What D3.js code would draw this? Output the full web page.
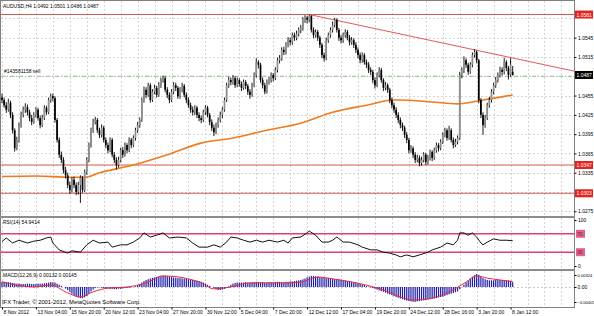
<!DOCTYPE html>
<html><head><meta charset="utf-8">
<script src="https://cdn.jsdelivr.net/npm/d3@7"></script>
<style>body{margin:0;background:#fff}svg{display:block;font-family:"Liberation Sans",Arial,sans-serif}</style>
</head><body><svg id="c" width="594" height="316"></svg>
<script>
// ---------- DATA ----------
const symbolTitle = "AUDUSD,H4  1.0492 1.0501 1.0486 1.0487";
const orderText = "#143581158 sell";
const rsiTitle = "RSI(14) 54.9414";
const macdTitle = "MACD(12,26,9) 0.00132 0.00145";
const copyright = "IFX Trader, \u00a9 2001-2012, MetaQuotes Software Corp.";

// H4 candles [open, high, low, close]
const ohlc = [
[1.0452,1.0458,1.0443,1.0448],[1.0448,1.0452,1.0436,1.0440],[1.0440,1.0445,1.0428,1.0433],[1.0433,1.0450,1.0430,1.0444],[1.0444,1.0447,1.0420,1.0425],
[1.0425,1.0429,1.0396,1.0401],[1.0401,1.0404,1.0368,1.0373],[1.0373,1.0391,1.0370,1.0386],[1.0386,1.0413,1.0382,1.0409],[1.0409,1.0430,1.0405,1.0425],
[1.0425,1.0438,1.0421,1.0433],[1.0433,1.0443,1.0428,1.0437],[1.0437,1.0441,1.0424,1.0429],[1.0429,1.0433,1.0415,1.0420],[1.0420,1.0425,1.0409,1.0414],
[1.0414,1.0429,1.0411,1.0425],[1.0425,1.0437,1.0421,1.0433],[1.0433,1.0436,1.0416,1.0420],[1.0420,1.0424,1.0404,1.0409],[1.0409,1.0425,1.0406,1.0420],
[1.0420,1.0440,1.0417,1.0436],[1.0436,1.0439,1.0425,1.0429],[1.0429,1.0452,1.0426,1.0448],[1.0448,1.0458,1.0444,1.0454],[1.0454,1.0458,1.0446,1.0451],
[1.0451,1.0454,1.0413,1.0417],[1.0417,1.0420,1.0382,1.0386],[1.0386,1.0390,1.0358,1.0363],[1.0363,1.0368,1.0350,1.0355],[1.0355,1.0359,1.0334,1.0339],
[1.0339,1.0344,1.0326,1.0331],[1.0331,1.0335,1.0311,1.0316],[1.0316,1.0321,1.0302,1.0308],[1.0308,1.0328,1.0304,1.0324],[1.0324,1.0329,1.0311,1.0316],
[1.0316,1.0320,1.0300,1.0305],[1.0305,1.0321,1.0301,1.0316],[1.0316,1.0331,1.0288,1.0327],[1.0327,1.0330,1.0304,1.0308],[1.0308,1.0340,1.0305,1.0336],
[1.0336,1.0359,1.0332,1.0355],[1.0355,1.0382,1.0351,1.0378],[1.0378,1.0405,1.0374,1.0401],[1.0401,1.0419,1.0397,1.0414],[1.0414,1.0422,1.0410,1.0417],
[1.0417,1.0420,1.0397,1.0401],[1.0401,1.0405,1.0389,1.0394],[1.0394,1.0410,1.0390,1.0405],[1.0405,1.0408,1.0382,1.0386],[1.0386,1.0390,1.0373,1.0378],
[1.0378,1.0382,1.0365,1.0370],[1.0370,1.0390,1.0367,1.0386],[1.0386,1.0389,1.0359,1.0363],[1.0363,1.0367,1.0350,1.0355],[1.0355,1.0359,1.0340,1.0347],
[1.0347,1.0360,1.0343,1.0355],[1.0355,1.0374,1.0351,1.0370],[1.0370,1.0375,1.0358,1.0363],[1.0363,1.0382,1.0360,1.0378],[1.0378,1.0381,1.0365,1.0370],
[1.0370,1.0390,1.0367,1.0386],[1.0386,1.0389,1.0373,1.0378],[1.0378,1.0393,1.0375,1.0389],[1.0389,1.0405,1.0385,1.0401],[1.0401,1.0414,1.0397,1.0409],
[1.0409,1.0421,1.0405,1.0417],[1.0417,1.0452,1.0414,1.0448],[1.0448,1.0469,1.0444,1.0464],[1.0464,1.0468,1.0451,1.0456],[1.0456,1.0475,1.0453,1.0471],
[1.0471,1.0474,1.0444,1.0448],[1.0448,1.0465,1.0445,1.0461],[1.0461,1.0472,1.0457,1.0467],[1.0467,1.0470,1.0452,1.0456],[1.0456,1.0476,1.0453,1.0471],
[1.0471,1.0483,1.0467,1.0479],[1.0479,1.0486,1.0475,1.0482],[1.0482,1.0485,1.0460,1.0464],[1.0464,1.0468,1.0451,1.0456],[1.0456,1.0460,1.0443,1.0448],
[1.0448,1.0465,1.0445,1.0461],[1.0461,1.0476,1.0457,1.0471],[1.0471,1.0475,1.0462,1.0467],[1.0467,1.0470,1.0450,1.0454],[1.0454,1.0468,1.0450,1.0464],
[1.0464,1.0475,1.0460,1.0470],[1.0470,1.0473,1.0452,1.0456],[1.0456,1.0460,1.0443,1.0448],[1.0448,1.0452,1.0436,1.0440],[1.0440,1.0444,1.0428,1.0433],
[1.0433,1.0438,1.0424,1.0429],[1.0429,1.0440,1.0425,1.0436],[1.0436,1.0439,1.0420,1.0425],[1.0425,1.0429,1.0415,1.0420],[1.0420,1.0424,1.0412,1.0417],
[1.0417,1.0433,1.0414,1.0429],[1.0429,1.0440,1.0425,1.0436],[1.0436,1.0439,1.0421,1.0425],[1.0425,1.0428,1.0409,1.0414],[1.0414,1.0418,1.0400,1.0405],
[1.0405,1.0410,1.0392,1.0398],[1.0398,1.0413,1.0395,1.0409],[1.0409,1.0421,1.0405,1.0417],[1.0417,1.0430,1.0413,1.0425],[1.0425,1.0437,1.0420,1.0433],
[1.0433,1.0452,1.0430,1.0448],[1.0448,1.0475,1.0445,1.0471],[1.0471,1.0484,1.0467,1.0479],[1.0479,1.0483,1.0471,1.0476],[1.0476,1.0487,1.0472,1.0482],
[1.0482,1.0485,1.0467,1.0471],[1.0471,1.0483,1.0468,1.0479],[1.0479,1.0482,1.0469,1.0473],[1.0473,1.0477,1.0462,1.0467],[1.0467,1.0480,1.0464,1.0476],
[1.0476,1.0479,1.0465,1.0470],[1.0470,1.0473,1.0456,1.0461],[1.0461,1.0465,1.0450,1.0456],[1.0456,1.0475,1.0453,1.0471],[1.0471,1.0491,1.0468,1.0487],
[1.0487,1.0513,1.0483,1.0507],[1.0507,1.0510,1.0497,1.0503],[1.0503,1.0506,1.0475,1.0479],[1.0479,1.0483,1.0466,1.0471],[1.0471,1.0475,1.0457,1.0461],
[1.0461,1.0480,1.0458,1.0476],[1.0476,1.0484,1.0472,1.0479],[1.0479,1.0491,1.0475,1.0487],[1.0487,1.0490,1.0477,1.0482],[1.0482,1.0499,1.0479,1.0495],
[1.0495,1.0514,1.0491,1.0510],[1.0510,1.0518,1.0505,1.0513],[1.0513,1.0530,1.0509,1.0526],[1.0526,1.0531,1.0518,1.0523],[1.0523,1.0538,1.0519,1.0534],
[1.0534,1.0546,1.0530,1.0541],[1.0541,1.0545,1.0533,1.0538],[1.0538,1.0553,1.0534,1.0549],[1.0549,1.0553,1.0540,1.0545],[1.0545,1.0556,1.0541,1.0551],
[1.0551,1.0561,1.0547,1.0557],[1.0557,1.0565,1.0552,1.0560],[1.0560,1.0577,1.0556,1.0573],[1.0573,1.0580,1.0568,1.0576],[1.0576,1.0579,1.0567,1.0573],
[1.0573,1.0581,1.0569,1.0579],[1.0579,1.0580,1.0553,1.0557],[1.0557,1.0561,1.0544,1.0549],[1.0549,1.0558,1.0545,1.0554],[1.0554,1.0557,1.0540,1.0545],
[1.0545,1.0548,1.0529,1.0534],[1.0534,1.0537,1.0513,1.0518],[1.0518,1.0522,1.0508,1.0513],[1.0513,1.0545,1.0510,1.0541],[1.0541,1.0553,1.0537,1.0549],
[1.0549,1.0561,1.0545,1.0557],[1.0557,1.0570,1.0553,1.0565],[1.0565,1.0576,1.0561,1.0573],[1.0573,1.0575,1.0553,1.0557],[1.0557,1.0560,1.0540,1.0545],
[1.0545,1.0549,1.0536,1.0541],[1.0541,1.0553,1.0537,1.0549],[1.0549,1.0558,1.0545,1.0554],[1.0554,1.0557,1.0541,1.0545],[1.0545,1.0549,1.0533,1.0538],
[1.0538,1.0546,1.0534,1.0541],[1.0541,1.0544,1.0529,1.0534],[1.0534,1.0538,1.0521,1.0526],[1.0526,1.0530,1.0513,1.0518],[1.0518,1.0522,1.0505,1.0510],
[1.0510,1.0522,1.0506,1.0518],[1.0518,1.0521,1.0503,1.0507],[1.0507,1.0511,1.0498,1.0503],[1.0503,1.0507,1.0490,1.0495],[1.0495,1.0499,1.0487,1.0492],
[1.0492,1.0495,1.0474,1.0479],[1.0479,1.0483,1.0466,1.0471],[1.0471,1.0491,1.0468,1.0487],[1.0487,1.0499,1.0483,1.0495],[1.0495,1.0498,1.0475,1.0479],
[1.0479,1.0482,1.0462,1.0467],[1.0467,1.0476,1.0463,1.0471],[1.0471,1.0474,1.0459,1.0464],[1.0464,1.0467,1.0443,1.0448],[1.0448,1.0452,1.0435,1.0440],
[1.0440,1.0444,1.0428,1.0433],[1.0433,1.0437,1.0420,1.0425],[1.0425,1.0429,1.0412,1.0417],[1.0417,1.0421,1.0404,1.0409],[1.0409,1.0413,1.0400,1.0405],
[1.0405,1.0408,1.0389,1.0394],[1.0394,1.0398,1.0381,1.0386],[1.0386,1.0389,1.0365,1.0370],[1.0370,1.0378,1.0366,1.0373],[1.0373,1.0376,1.0358,1.0363],
[1.0363,1.0367,1.0350,1.0355],[1.0355,1.0363,1.0351,1.0358],[1.0358,1.0362,1.0345,1.0350],[1.0350,1.0360,1.0346,1.0355],[1.0355,1.0367,1.0351,1.0363],
[1.0363,1.0366,1.0347,1.0352],[1.0352,1.0363,1.0348,1.0358],[1.0358,1.0371,1.0354,1.0367],[1.0367,1.0370,1.0353,1.0358],[1.0358,1.0374,1.0355,1.0370],
[1.0370,1.0382,1.0366,1.0378],[1.0378,1.0381,1.0368,1.0373],[1.0373,1.0387,1.0370,1.0383],[1.0383,1.0398,1.0380,1.0394],[1.0394,1.0405,1.0390,1.0401],
[1.0401,1.0404,1.0385,1.0389],[1.0389,1.0408,1.0386,1.0401],[1.0401,1.0404,1.0382,1.0386],[1.0386,1.0390,1.0373,1.0378],[1.0378,1.0388,1.0375,1.0383],
[1.0383,1.0393,1.0379,1.0389],[1.0389,1.0492,1.0386,1.0487],[1.0487,1.0499,1.0482,1.0495],[1.0495,1.0516,1.0490,1.0510],[1.0510,1.0513,1.0498,1.0503],
[1.0503,1.0506,1.0487,1.0492],[1.0492,1.0507,1.0489,1.0503],[1.0503,1.0522,1.0499,1.0518],[1.0518,1.0527,1.0514,1.0523],[1.0523,1.0525,1.0505,1.0510],
[1.0510,1.0512,1.0443,1.0448],[1.0448,1.0451,1.0420,1.0425],[1.0425,1.0429,1.0394,1.0409],[1.0409,1.0425,1.0405,1.0420],[1.0420,1.0444,1.0417,1.0440],
[1.0440,1.0453,1.0436,1.0448],[1.0448,1.0465,1.0444,1.0461],[1.0461,1.0475,1.0457,1.0471],[1.0471,1.0484,1.0467,1.0479],[1.0479,1.0491,1.0475,1.0487],
[1.0487,1.0500,1.0483,1.0495],[1.0495,1.0499,1.0486,1.0492],[1.0492,1.0514,1.0488,1.0507],[1.0507,1.0510,1.0493,1.0498],[1.0498,1.0501,1.0480,1.0487],
[1.0487,1.0513,1.0484,1.0503],[1.0492,1.0501,1.0486,1.0487]
];

// moving average, [bar index, value]
const maPoints = [[0,1.0329],[16,1.0330],[32,1.0328],[39,1.0328],[46,1.0335],[62,1.0347],[78,1.0363],[94,1.0381],[109,1.0389],[125,1.0401],[141,1.0412],[156,1.0429],[172,1.0440],[185,1.0448],[188,1.0448],[203,1.0445],[215,1.0442],[227,1.0448],[241,1.0456]];

// RSI(14), [bar index, value]
const rsiPoints = [[0,53],[2,61],[5,50],[8,56],[12,50],[15,54],[18,56],[21,61],[23,63],[24,50],[27,35],[31,28],[33,33],[37,30],[40,46],[43,56],[46,50],[50,52],[52,41],[56,46],[59,46],[62,52],[65,61],[67,72],[70,63],[73,67],[76,72],[79,61],[83,63],[87,61],[90,50],[93,41],[97,41],[100,46],[103,41],[106,52],[108,63],[111,61],[114,56],[117,52],[120,56],[123,52],[126,56],[130,52],[133,56],[135,50],[137,61],[141,63],[144,72],[145,76],[148,67],[151,52],[154,52],[156,56],[158,63],[161,52],[164,52],[168,46],[170,41],[174,35],[177,35],[180,30],[183,28],[186,24],[188,20],[191,24],[194,20],[197,24],[201,30],[203,35],[207,41],[210,50],[213,46],[215,56],[216,72],[218,72],[220,67],[222,72],[224,63],[226,50],[227,46],[229,52],[232,59],[235,56],[238,56],[241,55]];

// MACD(12,26,9) main values per bar
const macdMain = [
0.0014,0.0014,0.0013,0.0013,0.0012,0.0011,0.0010,0.0009,0.0009,0.0008,0.0008,0.0008,0.0009,0.0009,0.0008,0.0008,0.0008,0.0009,0.0009,0.0009,0.0010,0.0011,0.0012,0.0013,
0.0013,0.0012,0.0009,0.0006,0.0003,0.0000,
-0.0004,-0.0008,-0.0013,-0.0018,-0.0022,-0.0026,-0.0028,-0.0030,-0.0030,-0.0028,-0.0024,-0.0018,-0.0012,
-0.0007,-0.0003,-0.0001,
-0.0001,-0.0002,-0.0003,-0.0004,-0.0004,-0.0005,-0.0005,-0.0006,-0.0006,-0.0005,-0.0005,-0.0004,-0.0003,-0.0003,-0.0002,-0.0001,0.0000,
0.0002,0.0005,0.0008,0.0012,0.0016,
0.0019,0.0021,0.0023,0.0025,0.0026,0.0027,0.0028,0.0029,0.0030,0.0030,0.0029,0.0028,
0.0027,0.0026,0.0025,0.0024,0.0024,0.0023,0.0022,0.0022,0.0021,0.0020,0.0019,0.0018,0.0017,0.0016,
0.0014,0.0012,0.0009,0.0006,0.0003,0.0000,
-0.0003,-0.0006,-0.0008,-0.0008,-0.0007,-0.0005,-0.0002,0.0002,
0.0006,0.0009,0.0011,0.0012,0.0012,0.0012,0.0012,0.0013,0.0012,0.0012,0.0013,0.0013,0.0014,0.0014,0.0013,0.0013,0.0012,0.0012,0.0013,0.0013,0.0013,0.0014,0.0014,0.0014,0.0013,0.0013,0.0014,0.0014,0.0015,0.0015,0.0016,0.0017,0.0018,0.0019,
0.0021,0.0023,0.0026,0.0028,0.0030,0.0030,0.0029,0.0028,0.0027,
0.0026,0.0025,0.0024,0.0024,0.0023,0.0022,0.0021,0.0021,0.0020,0.0019,0.0018,0.0017,0.0016,0.0015,0.0014,0.0012,0.0011,0.0010,0.0008,0.0007,0.0005,0.0003,
0.0001,-0.0001,-0.0003,-0.0005,-0.0007,-0.0009,-0.0011,-0.0013,-0.0015,-0.0018,-0.0020,-0.0022,-0.0025,-0.0027,-0.0029,
-0.0031,-0.0033,-0.0035,-0.0037,-0.0038,-0.0039,-0.0040,-0.0040,-0.0039,-0.0038,
-0.0037,-0.0036,-0.0035,-0.0034,-0.0033,-0.0032,-0.0031,-0.0030,-0.0028,-0.0027,-0.0026,-0.0024,-0.0022,-0.0020,-0.0018,-0.0016,-0.0014,-0.0012,
-0.0006,0.0000,0.0006,0.0012,0.0018,0.0023,0.0028,0.0032,0.0035,0.0033,
0.0028,0.0024,0.0021,0.0019,0.0018,0.0018,0.0018,0.0019,0.0019,0.0019,0.0019,0.0019,0.0018,0.0018,0.0017,0.0013
];

// MACD signal, [bar index, value]
const signalPoints = [[0,0.0014],[15,0.0000],[23,0.0005],[31,-0.0016],[37,-0.0027],[43,-0.0013],[50,-0.0003],[59,0.0000],[68,0.0011],[76,0.0030],[93,0.0014],[100,-0.0005],[108,0.0000],[117,0.0011],[133,0.0011],[141,0.0013],[149,0.0027],[156,0.0022],[172,0.0005],[180,-0.0008],[188,-0.0027],[194,-0.0035],[203,-0.0030],[211,-0.0013],[219,0.0013],[224,0.0030],[229,0.0024],[235,0.0019],[241,0.00145]];

const priceTicks = [1.0275,1.0305,1.0335,1.0365,1.0395,1.0425,1.0455,1.0485,1.0515,1.0545,1.0575];
const levels = [1.0581,1.0347,1.0303];
const trendLine = [[145,1.0581],[270,1.0493]];
const orderPrice = 1.0485;
const lastPrice = 1.0487;
const rsiLevels = [70,30];
const rsiTicks = [100,0];
const macdTicks = [0.00324,0.00,-0.00405];
const dateLabels = ["8 Nov 2012","13 Nov 04:00","15 Nov 20:00","20 Nov 12:00","23 Nov 04:00","27 Nov 20:00","30 Nov 12:00","5 Dec 04:00","7 Dec 20:00","12 Dec 12:00","17 Dec 04:00","19 Dec 20:00","24 Dec 12:00","28 Dec 16:00","3 Jan 20:00","8 Jan 12:00"];
const dateBars = [0,16,32,48,64,80,96,112,128,144,160,176,192,208,224,240];

// ---------- DRAW ----------
const svg = d3.select("#c");
const AFS = 5;
const axisX = 574;
const main = {top:1, bottom:216}, rsiP = {top:218, bottom:269}, macdP = {top:271, bottom:307};

const x = d3.scaleLinear().domain([0,241]).range([2, 2+241*2.119]);
const yP = d3.scaleLinear().domain([1.0275,1.0575]).range([211.3,18.4]);
const yR = d3.scaleLinear().domain([0,100]).range([266,220]);
const yM = d3.scaleLinear().domain([-0.00405,0.00324]).range([302,275]);

svg.append("rect").attr("width",594).attr("height",316).attr("fill","#fff");
const defs = svg.append("defs");
defs.append("clipPath").attr("id","cm").append("rect").attr("x",1).attr("y",main.top).attr("width",axisX-1).attr("height",main.bottom-main.top);

// vertical grid all panels
const gridBars = d3.range(0, 8*34, 8).filter(b => x(b) < axisX-1);
[main, rsiP, macdP].forEach(p => {
  svg.append("g").selectAll("line").data(gridBars).join("line")
    .attr("x1",d=>Math.round(x(d))+0.5).attr("x2",d=>Math.round(x(d))+0.5)
    .attr("y1",p.top).attr("y2",p.bottom)
    .attr("stroke","#d4d4d4").attr("stroke-dasharray","2,2").attr("stroke-width",1);
});
// horizontal grid main
svg.append("g").selectAll("line").data(priceTicks).join("line")
  .attr("x1",1).attr("x2",axisX).attr("y1",d=>Math.round(yP(d))+0.5).attr("y2",d=>Math.round(yP(d))+0.5)
  .attr("stroke","#d4d4d4").attr("stroke-dasharray","2,2");
// macd zero grid
svg.append("line").attr("x1",1).attr("x2",axisX).attr("y1",Math.round(yM(0))+0.5).attr("y2",Math.round(yM(0))+0.5)
  .attr("stroke","#c8c8c8").attr("stroke-dasharray","2,2");

const gm = svg.append("g").attr("clip-path","url(#cm)");

// support/resistance levels
gm.selectAll("line.lv").data(levels).join("line").attr("class","lv")
  .attr("x1",1).attr("x2",axisX).attr("y1",d=>yP(d)).attr("y2",d=>yP(d))
  .attr("stroke","#cf5b50").attr("stroke-width",1.1);
// trend line
gm.append("line").attr("x1",x(trendLine[0][0])).attr("y1",yP(trendLine[0][1]))
  .attr("x2",x(trendLine[1][0])).attr("y2",yP(trendLine[1][1]))
  .attr("stroke","#e2585a").attr("stroke-width",1);
// order line
gm.append("line").attr("x1",1).attr("x2",axisX).attr("y1",yP(orderPrice)).attr("y2",yP(orderPrice))
  .attr("stroke","#8cc084").attr("stroke-width",1).attr("stroke-dasharray","4,2,1,2");
gm.append("text").attr("x",4).attr("y",yP(orderPrice)-3).attr("font-size",AFS).attr("fill","#000").text(orderText);

// moving average
gm.append("path").datum(maPoints)
  .attr("d", d3.line().x(d=>x(d[0])).y(d=>yP(d[1])).curve(d3.curveMonotoneX))
  .attr("fill","none").attr("stroke","#f07a1e").attr("stroke-width",1.6);

// candles
const cg = gm.append("g");
cg.selectAll("line").data(ohlc).join("line")
  .attr("x1",(d,i)=>x(i)).attr("x2",(d,i)=>x(i))
  .attr("y1",d=>yP(d[1])).attr("y2",d=>yP(d[2]))
  .attr("stroke","#000").attr("stroke-width",0.9);
cg.selectAll("rect").data(ohlc).join("rect")
  .attr("x",(d,i)=>x(i)-0.85).attr("width",1.7)
  .attr("y",d=>yP(Math.max(d[0],d[3])))
  .attr("height",d=>Math.max(0.8, Math.abs(yP(d[0])-yP(d[3]))))
  .attr("fill",d=>d[3]>=d[0] ? "#8e8e8e" : "#000");

// header
svg.append("text").attr("x",3).attr("y",8).attr("font-size",AFS).attr("fill","#000").text(symbolTitle);

// RSI
svg.selectAll("line.rl").data(rsiLevels).join("line").attr("class","rl")
  .attr("x1",1).attr("x2",axisX).attr("y1",d=>yR(d)).attr("y2",d=>yR(d))
  .attr("stroke","#e0406c").attr("stroke-width",1.4);
svg.append("path").datum(rsiPoints)
  .attr("d", d3.line().x(d=>x(d[0])).y(d=>yR(d[1])))
  .attr("fill","none").attr("stroke","#111").attr("stroke-width",1);
svg.append("text").attr("x",3).attr("y",rsiP.top+6).attr("font-size",AFS).text(rsiTitle);

// MACD
svg.append("g").selectAll("rect").data(macdMain).join("rect")
  .attr("x",(d,i)=>x(i)-0.6).attr("width",1.2)
  .attr("y",d=>Math.min(yM(d),yM(0))).attr("height",d=>Math.abs(yM(d)-yM(0)))
  .attr("fill","#1e1ea8");
svg.append("path").datum(signalPoints)
  .attr("d", d3.line().x(d=>x(d[0])).y(d=>yM(d[1])).curve(d3.curveMonotoneX))
  .attr("fill","none").attr("stroke","#e8283c").attr("stroke-width",1);
svg.append("text").attr("x",3).attr("y",macdP.top+6).attr("font-size",AFS).text(macdTitle);
svg.append("text").attr("x",2).attr("y",304).attr("font-size",5.8).text(copyright);

// frames and separators
svg.append("rect").attr("x",0.5).attr("y",0.5).attr("width",axisX).attr("height",macdP.bottom)
  .attr("fill","none").attr("stroke","#808080");
[217,270].forEach(yy => svg.append("line").attr("x1",0).attr("x2",axisX+1).attr("y1",yy).attr("y2",yy)
  .attr("stroke","#8c8c8c").attr("stroke-width",2));

// axis tick values that are covered by level tags are not labelled
const tagged = levels.concat([lastPrice]);
const visibleTicks = priceTicks.filter(t => tagged.every(l => Math.abs(yP(t)-yP(l)) > 5));

// price axis
const pa = svg.append("g").attr("transform",`translate(${axisX+0.5},0)`)
  .call(d3.axisRight(yP).tickValues(visibleTicks).tickFormat(d3.format(".4f")).tickSize(2).tickPadding(1.5));
// rsi axis
const ra = svg.append("g").attr("transform",`translate(${axisX+0.5},0)`)
  .call(d3.axisRight(yR).tickValues(rsiTicks).tickFormat(d3.format("d")).tickSize(2).tickPadding(1.5));
// macd axis
const mAx = svg.append("g").attr("transform",`translate(${axisX+0.5},0)`)
  .call(d3.axisRight(yM).tickValues(macdTicks).tickFormat(d=>d===0?"0.00":d3.format(".5f")(d)).tickSize(2).tickPadding(1));
// date axis
const da = svg.append("g").attr("transform",`translate(0,${macdP.bottom+0.5})`)
  .call(d3.axisBottom(x).tickValues(dateBars).tickFormat((d,i)=>dateLabels[i]).tickSize(2).tickPadding(1));
[pa,ra,mAx,da].forEach(g=>{
  g.select(".domain").remove();
  g.selectAll("text").attr("font-size",AFS).attr("font-family","Liberation Sans, Arial, sans-serif").attr("fill","#000");
  g.selectAll("line").attr("stroke","#000");
});
da.selectAll("text").attr("text-anchor","start").attr("dx",1);
mAx.selectAll("text").filter(d=>d!==0).attr("font-size",4.1);

// level labels on the axis
function tag(y, bg, txt){
  const g = svg.append("g");
  g.append("rect").attr("x",axisX+1).attr("y",y-4).attr("width",18).attr("height",8).attr("fill",bg);
  g.append("text").attr("x",axisX+2.5).attr("y",y+2).attr("font-size",AFS).attr("fill","#fff").text(txt);
}
levels.forEach(l => tag(yP(l), "#e3231e", d3.format(".4f")(l)));
tag(yP(lastPrice), "#000", d3.format(".4f")(lastPrice));
rsiLevels.forEach(l => {
  const g = svg.append("g");
  g.append("rect").attr("x",axisX+2).attr("y",yR(l)-4).attr("width",9).attr("height",8).attr("fill","#e6608a");
  g.append("text").attr("x",axisX+3).attr("y",yR(l)+2).attr("font-size",AFS).attr("fill","#333").text(l);
});
</script></body></html>
